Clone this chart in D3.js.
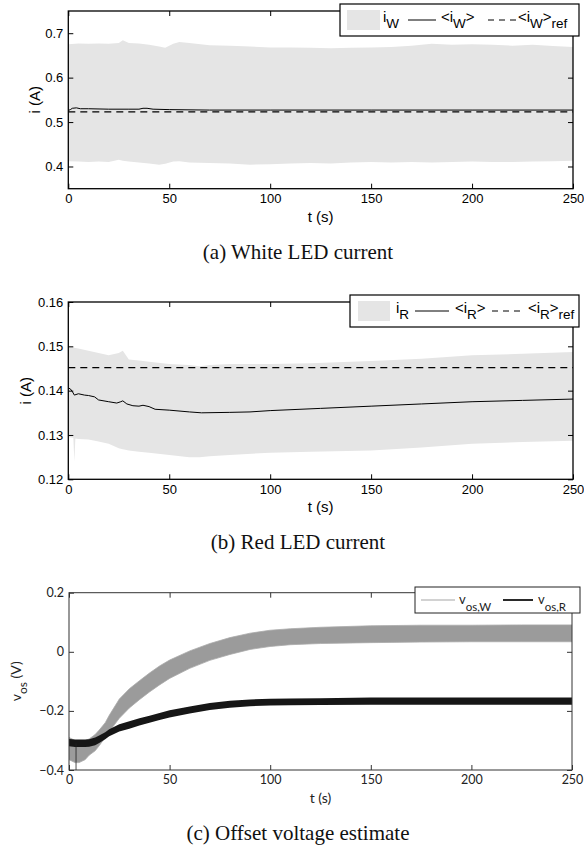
<!DOCTYPE html>
<html>
<head>
<meta charset="utf-8">
<script src="https://cdn.jsdelivr.net/npm/d3@7"></script>
<style>
  body { margin: 0; background: #fff; }
  svg { display: block; }
</style>
</head>
<body>
<div id="chart"></div>
<script>
// ---------- data ----------
const xTicks = [0, 50, 100, 150, 200, 250];

// (a) white LED current
const tBandA = [0, 5, 10, 15, 20, 25, 27, 30, 35, 40, 45, 48, 52, 55, 60, 70, 80, 90, 100, 110, 120, 130, 140, 150, 160, 170, 180, 190, 200, 210, 220, 230, 240, 250];
const upperA = [0.675, 0.677, 0.676, 0.677, 0.676, 0.678, 0.684, 0.678, 0.677, 0.674, 0.670, 0.667, 0.676, 0.680, 0.678, 0.673, 0.672, 0.670, 0.668, 0.668, 0.667, 0.666, 0.667, 0.668, 0.669, 0.672, 0.676, 0.674, 0.675, 0.674, 0.672, 0.674, 0.671, 0.669];
const lowerA = [0.412, 0.411, 0.410, 0.411, 0.410, 0.415, 0.413, 0.411, 0.409, 0.407, 0.404, 0.406, 0.411, 0.412, 0.409, 0.408, 0.407, 0.404, 0.405, 0.407, 0.408, 0.407, 0.409, 0.410, 0.409, 0.410, 0.409, 0.410, 0.411, 0.410, 0.410, 0.411, 0.412, 0.413];
const tMeanA = [0, 1, 2, 4, 6, 10, 20, 30, 35, 37, 39, 42, 50, 70, 100, 150, 200, 250];
const meanA = [0.526, 0.528, 0.531, 0.532, 0.530, 0.530, 0.529, 0.529, 0.529, 0.531, 0.531, 0.529, 0.528, 0.527, 0.527, 0.527, 0.527, 0.527];
const refA = 0.523;
const yTicksA = [0.4, 0.5, 0.6, 0.7];

// (b) red LED current
const tBandB = [0, 2.5, 3, 3.5, 5, 10, 15, 20, 25, 27, 30, 35, 40, 50, 60, 65, 70, 80, 100, 120, 150, 175, 200, 225, 250];
const upperB = [0.150, 0.1498, 0.1497, 0.1496, 0.1495, 0.149, 0.1485, 0.148, 0.1485, 0.149, 0.147, 0.1468, 0.1465, 0.146, 0.1458, 0.1455, 0.1458, 0.146, 0.146, 0.1462, 0.1467, 0.1472, 0.148, 0.1483, 0.1487];
const lowerB = [0.1295, 0.1294, 0.1240, 0.1292, 0.1291, 0.129, 0.1285, 0.128, 0.127, 0.1268, 0.1265, 0.1262, 0.126, 0.1255, 0.125, 0.125, 0.1252, 0.1255, 0.126, 0.1262, 0.1265, 0.1272, 0.128, 0.1284, 0.1287];
const tMeanB = [0, 1, 2, 3, 5, 8, 10, 13, 15, 20, 24, 26, 27, 29, 32, 35, 37, 40, 43, 50, 60, 66, 80, 90, 100, 125, 150, 175, 200, 225, 250];
const meanB = [0.1406, 0.1404, 0.1398, 0.1390, 0.1393, 0.1390, 0.1389, 0.1386, 0.1379, 0.1375, 0.1372, 0.1375, 0.1377, 0.1370, 0.1366, 0.1365, 0.1367, 0.1364, 0.1358, 0.1356, 0.1352, 0.1350, 0.1351, 0.1352, 0.1355, 0.1360, 0.1365, 0.1370, 0.1375, 0.1378, 0.1381];
const refB = 0.1452;
const yTicksB = [0.12, 0.13, 0.14, 0.15, 0.16];

// (c) offset voltage estimates
const tC = [0, 3, 5, 8, 10, 13, 15, 18, 20, 25, 30, 35, 40, 45, 50, 60, 70, 80, 90, 100, 110, 125, 150, 175, 200, 225, 250];
const wUpper = [-0.29, -0.30, -0.305, -0.30, -0.295, -0.28, -0.265, -0.24, -0.215, -0.16, -0.125, -0.098, -0.072, -0.048, -0.028, 0.003, 0.028, 0.048, 0.063, 0.073, 0.078, 0.083, 0.088, 0.09, 0.09, 0.091, 0.091];
const wLower = [-0.365, -0.375, -0.375, -0.365, -0.35, -0.335, -0.318, -0.29, -0.27, -0.225, -0.19, -0.162, -0.136, -0.112, -0.09, -0.056, -0.029, -0.009, 0.008, 0.018, 0.024, 0.028, 0.031, 0.033, 0.034, 0.034, 0.034];
const rUpper = [-0.295, -0.297, -0.297, -0.297, -0.296, -0.29, -0.283, -0.272, -0.262, -0.245, -0.235, -0.225, -0.216, -0.207, -0.198, -0.185, -0.173, -0.166, -0.161, -0.159, -0.158, -0.157, -0.155, -0.155, -0.155, -0.155, -0.155];
const rLower = [-0.32, -0.322, -0.322, -0.322, -0.321, -0.316, -0.309, -0.296, -0.286, -0.27, -0.26, -0.249, -0.24, -0.231, -0.222, -0.209, -0.197, -0.189, -0.184, -0.182, -0.181, -0.18, -0.179, -0.179, -0.179, -0.179, -0.179];
const tSpikeC = [3.5, 3.5];
const vSpikeC = [-0.4, -0.31];
const yTicksC = [-0.4, -0.2, 0, 0.2];

// ---------- drawing ----------
const svg = d3.select("#chart").append("svg")
    .attr("width", 584)
    .attr("height", 845);

const sansA = "'Liberation Sans', Arial, Helvetica, sans-serif";
const sansC = "Lato, 'Open Sans', sans-serif";
const serif = "'Liberation Serif', 'Times New Roman', serif";

function makePanel(p) {
    const x = d3.scaleLinear().domain([0, 250]).range([p.left, p.right]);
    const y = d3.scaleLinear().domain(p.yDomain).range([p.bottom, p.top]);
    const g = svg.append("g")
        .style("font-family", p.font)
        .style("font-size", p.fontSize + "px");

    svg.append("clipPath").attr("id", "clip-" + p.name)
        .append("rect")
        .attr("x", p.left).attr("y", p.top)
        .attr("width", p.right - p.left).attr("height", p.bottom - p.top);

    const data = g.append("g").attr("clip-path", `url(#clip-${p.name})`);
    return { x, y, g, data, p };
}

function drawAxes(P) {
    const { x, y, g, p } = P;
    const strip = s => {
        s.attr("font-size", null).attr("font-family", null);
        s.select(".domain").remove();
        s.selectAll(".tick line").attr("stroke", p.axisColor).attr("stroke-width", 1);
        s.selectAll(".tick text").attr("fill", p.textColor);
    };
    g.append("g").attr("transform", `translate(0,${p.bottom})`)
        .call(d3.axisBottom(x).tickValues(xTicks).tickSize(-5).tickPadding(5).tickFormat(d3.format("d")))
        .call(strip);
    g.append("g").attr("transform", `translate(0,${p.top})`)
        .call(d3.axisTop(x).tickValues(xTicks).tickSize(-5).tickFormat(""))
        .call(strip);
    g.append("g").attr("transform", `translate(${p.left},0)`)
        .call(d3.axisLeft(y).tickValues(p.yTicks).tickSize(-5).tickPadding(5).tickFormat(p.fmt))
        .call(strip);
    g.append("g").attr("transform", `translate(${p.right},0)`)
        .call(d3.axisRight(y).tickValues(p.yTicks).tickSize(-5).tickFormat(""))
        .call(strip);

    g.append("rect")
        .attr("x", p.left).attr("y", p.top)
        .attr("width", p.right - p.left).attr("height", p.bottom - p.top)
        .attr("fill", "none")
        .attr("stroke", p.axisColor)
        .attr("stroke-width", p.boxWidth);

    // x label
    g.append("text")
        .attr("x", (p.left + p.right) / 2)
        .attr("y", p.bottom + 33)
        .attr("text-anchor", "middle")
        .style("font-size", p.labelSize + "px")
        .attr("fill", p.textColor)
        .text("t (s)");

    // caption
    svg.append("text")
        .attr("x", 298)
        .attr("y", p.bottom + 70)
        .attr("text-anchor", "middle")
        .style("font-family", serif)
        .style("font-size", "21px")
        .attr("fill", "#111")
        .text(p.caption);
}

// subscripted text helper: parts = [[text, isSub], ...]
function subText(g, x, y, parts, size, subSize, drop, color) {
    const t = g.append("text").attr("x", x).attr("y", y)
        .style("font-size", size + "px").attr("fill", color);
    let low = false;
    parts.forEach(([s, sub]) => {
        const span = t.append("tspan").text(s);
        if (sub && !low) { span.attr("dy", drop); low = true; }
        else if (!sub && low) { span.attr("dy", -drop); low = false; }
        if (sub) span.style("font-size", subSize + "px");
    });
    return t;
}

function currentLegend(g, top, left, items, sym) {
    g.append("rect")
        .attr("x", left).attr("y", top)
        .attr("width", 579 - left).attr("height", 32)
        .attr("fill", "#fff").attr("stroke", "#000").attr("stroke-width", 1.2);
    const cy = top + 16;
    g.append("rect")
        .attr("x", items.patch[0]).attr("y", cy - 10)
        .attr("width", items.patch[1] - items.patch[0]).attr("height", 20)
        .attr("fill", "#e5e5e5");
    subText(g, items.t1, cy + 2, [["i", false], [sym, true]], 15, 13.5, 6, "#000");
    g.append("line")
        .attr("x1", items.solid[0]).attr("x2", items.solid[1])
        .attr("y1", cy).attr("y2", cy)
        .attr("stroke", "#000").attr("stroke-width", 1);
    subText(g, items.t2, cy + 2, [["<i", false], [sym, true], [">", false]], 15, 13.5, 6, "#000");
    g.append("line")
        .attr("x1", items.dash[0]).attr("x2", items.dash[1])
        .attr("y1", cy).attr("y2", cy)
        .attr("stroke", "#000").attr("stroke-width", 1)
        .attr("stroke-dasharray", "6,5");
    subText(g, items.t3, cy + 2, [["<i", false], [sym, true], [">", false], ["ref", true]], 15, 13.5, 6, "#000");
}

// ----- panel (a) -----
const pa = {
    name: "a", left: 68.3, right: 573, top: 11, bottom: 188.7,
    yDomain: [0.35, 0.75], yTicks: yTicksA, fmt: d3.format(".1f"),
    font: sansA, fontSize: 13, labelSize: 15, axisColor: "#000", textColor: "#000",
    boxWidth: 1.3, caption: "(a) White LED current"
};
const A = makePanel(pa);
A.data.append("path")
    .datum(tBandA.map((t, i) => [t, lowerA[i], upperA[i]]))
    .attr("fill", "#e5e5e5")
    .attr("d", d3.area().x(d => A.x(d[0])).y0(d => A.y(d[1])).y1(d => A.y(d[2])));
A.data.append("path")
    .datum(tMeanA.map((t, i) => [t, meanA[i]]))
    .attr("fill", "none").attr("stroke", "#000").attr("stroke-width", 1)
    .attr("d", d3.line().x(d => A.x(d[0])).y(d => A.y(d[1])));
A.data.append("line")
    .attr("x1", A.x(0)).attr("x2", A.x(250))
    .attr("y1", A.y(refA)).attr("y2", A.y(refA))
    .attr("stroke", "#000").attr("stroke-width", 1.1).attr("stroke-dasharray", "7,5");
drawAxes(A);
A.g.append("text")
    .attr("transform", `translate(39.5,${(pa.top + pa.bottom) / 2}) rotate(-90)`)
    .attr("text-anchor", "middle")
    .style("font-size", "15px")
    .text("i (A)");
currentLegend(A.g, 4, 340, { patch: [347, 380], t1: 383, solid: [408, 436], t2: 441, dash: [488, 516], t3: 518 }, "W");

// ----- panel (b) -----
const pb = {
    name: "b", left: 68.3, right: 573, top: 302, bottom: 479.3,
    yDomain: [0.12, 0.16], yTicks: yTicksB, fmt: d3.format(".2f"),
    font: sansA, fontSize: 13, labelSize: 15, axisColor: "#000", textColor: "#000",
    boxWidth: 1.3, caption: "(b) Red LED current"
};
const B = makePanel(pb);
B.data.append("path")
    .datum(tBandB.map((t, i) => [t, lowerB[i], upperB[i]]))
    .attr("fill", "#e5e5e5")
    .attr("d", d3.area().x(d => B.x(d[0])).y0(d => B.y(d[1])).y1(d => B.y(d[2])));
B.data.append("path")
    .datum(tMeanB.map((t, i) => [t, meanB[i]]))
    .attr("fill", "none").attr("stroke", "#000").attr("stroke-width", 1)
    .attr("d", d3.line().x(d => B.x(d[0])).y(d => B.y(d[1])));
B.data.append("line")
    .attr("x1", B.x(0)).attr("x2", B.x(250))
    .attr("y1", B.y(refB)).attr("y2", B.y(refB))
    .attr("stroke", "#000").attr("stroke-width", 1.1).attr("stroke-dasharray", "7,5");
drawAxes(B);
B.g.append("text")
    .attr("transform", `translate(30.5,${(pb.top + pb.bottom) / 2}) rotate(-90)`)
    .attr("text-anchor", "middle")
    .style("font-size", "15px")
    .text("i (A)");
currentLegend(B.g, 295, 350, { patch: [358, 390], t1: 396, solid: [415, 449], t2: 455, dash: [492, 523], t3: 528 }, "R");

// ----- panel (c) -----
const pc = {
    name: "c", left: 69, right: 572, top: 592.7, bottom: 770,
    yDomain: [-0.4, 0.2], yTicks: yTicksC, fmt: d3.format(".1~f"),
    font: sansC, fontSize: 12.5, labelSize: 14, axisColor: "#333", textColor: "#222",
    boxWidth: 1, caption: "(c) Offset voltage estimate"
};
const C = makePanel(pc);
C.data.append("path")
    .datum(tC.map((t, i) => [t, wLower[i], wUpper[i]]))
    .attr("fill", "#9b9b9b")
    .attr("stroke", "#ababab").attr("stroke-width", 0.8)
    .attr("d", d3.area().x(d => C.x(d[0])).y0(d => C.y(d[1])).y1(d => C.y(d[2])));
C.data.append("path")
    .datum(tC.map((t, i) => [t, rLower[i], rUpper[i]]))
    .attr("fill", "#161616")
    .attr("d", d3.area().x(d => C.x(d[0])).y0(d => C.y(d[1])).y1(d => C.y(d[2])));
C.data.append("path")
    .datum(tSpikeC.map((t, i) => [t, vSpikeC[i]]))
    .attr("fill", "none").attr("stroke", "#222").attr("stroke-width", 0.8)
    .attr("d", d3.line().x(d => C.x(d[0])).y(d => C.y(d[1])));
drawAxes(C);
const vLabel = C.g.append("text")
    .attr("transform", `translate(20.5,${(pc.top + pc.bottom) / 2}) rotate(-90)`)
    .attr("text-anchor", "middle")
    .style("font-size", "14px")
    .attr("fill", "#222");
vLabel.append("tspan").text("v");
vLabel.append("tspan").attr("dy", 6).style("font-size", "12px").text("os");
vLabel.append("tspan").attr("dy", -6).text(" (V)");

// legend (c)
C.g.append("rect")
    .attr("x", 415).attr("y", 587)
    .attr("width", 165).attr("height", 26)
    .attr("fill", "#fff").attr("stroke", "#222").attr("stroke-width", 1);
C.g.append("line")
    .attr("x1", 421).attr("x2", 455).attr("y1", 600).attr("y2", 600)
    .attr("stroke", "#9b9b9b").attr("stroke-width", 0.9);
subText(C.g, 459, 604, [["v", false], ["os,W", true]], 13, 11.5, 7, "#222");
C.g.append("line")
    .attr("x1", 503).attr("x2", 533).attr("y1", 600).attr("y2", 600)
    .attr("stroke", "#2a2a2a").attr("stroke-width", 2);
subText(C.g, 538, 604, [["v", false], ["os,R", true]], 13, 11.5, 7, "#222");
</script>
</body>
</html>
